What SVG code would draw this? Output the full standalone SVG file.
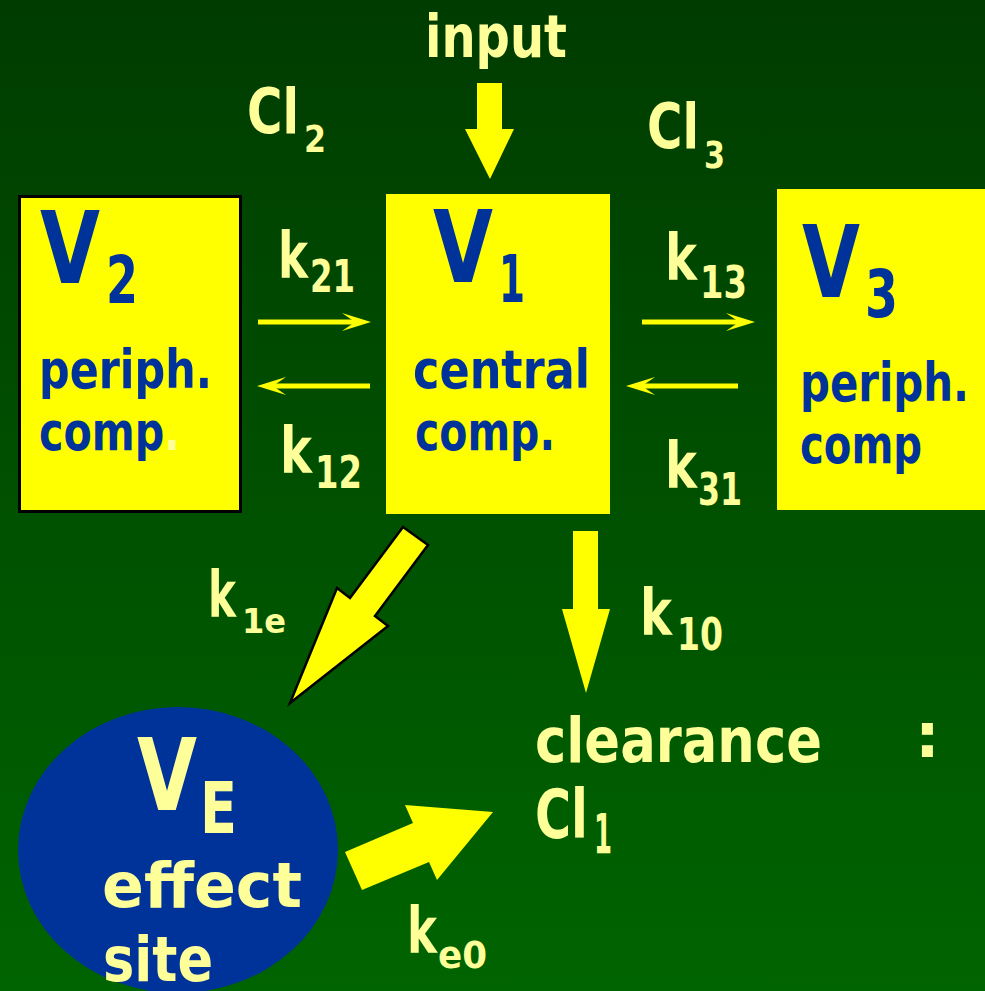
<svg xmlns="http://www.w3.org/2000/svg" width="985" height="991" viewBox="0 0 985 991">
<defs>
<linearGradient id="bg" x1="0" y1="0" x2="0" y2="1">
<stop offset="0" stop-color="#003c00"/>
<stop offset="1" stop-color="#006400"/>
</linearGradient>
</defs>
<style>
text{font-family:"DejaVu Sans","Liberation Sans",sans-serif;font-weight:bold}
.lt{fill:#FFFF99}
.bl{fill:#003399}
.box{fill:#FFFF00}
.thin{stroke:#FFFF00;stroke-width:5;fill:none}
.head{fill:#FFFF00}
.big{fill:#FFFF00}
</style>
<rect x="0" y="0" width="985" height="991" fill="url(#bg)"/>

<g id="V2">
<rect class="box" x="19.5" y="196.5" width="221" height="315" stroke="#000" stroke-width="3"/>
<text class="bl" x="40" y="283" font-size="100" textLength="60" lengthAdjust="spacingAndGlyphs">V</text>
<text class="bl" x="106" y="303" font-size="66" textLength="32" lengthAdjust="spacingAndGlyphs">2</text>
<text class="bl" x="39" y="388" font-size="54" textLength="173" lengthAdjust="spacingAndGlyphs">periph.</text>
<text class="bl" x="39" y="450" font-size="54" textLength="141" lengthAdjust="spacingAndGlyphs">comp<tspan class="lt">.</tspan></text>
</g>

<g id="V1">
<rect class="box" x="386" y="194" width="224" height="320"/>
<text class="bl" x="433" y="282" font-size="100" textLength="60" lengthAdjust="spacingAndGlyphs">V</text>
<text class="bl" x="499" y="302" font-size="66" textLength="26" lengthAdjust="spacingAndGlyphs">1</text>
<text class="bl" x="413" y="388" font-size="54" textLength="177" lengthAdjust="spacingAndGlyphs">central</text>
<text class="bl" x="415" y="450" font-size="54" textLength="140" lengthAdjust="spacingAndGlyphs">comp.</text>
</g>

<g id="V3">
<rect class="box" x="777" y="189" width="208" height="321"/>
<text class="bl" x="802" y="297" font-size="100" textLength="58" lengthAdjust="spacingAndGlyphs">V</text>
<text class="bl" x="865" y="317" font-size="66" textLength="33" lengthAdjust="spacingAndGlyphs">3</text>
<text class="bl" x="800" y="401" font-size="54" textLength="169" lengthAdjust="spacingAndGlyphs">periph.</text>
<text class="bl" x="800" y="463" font-size="54" textLength="122" lengthAdjust="spacingAndGlyphs">comp</text>
</g>

<g id="VE">
<ellipse cx="178" cy="850" rx="160" ry="143" fill="#003399"/>
<text class="lt" x="137" y="810" font-size="100" textLength="60" lengthAdjust="spacingAndGlyphs">V</text>
<text class="lt" x="200" y="833" font-size="72" textLength="37" lengthAdjust="spacingAndGlyphs">E</text>
<text class="lt" x="102" y="907" font-size="62" textLength="200" lengthAdjust="spacingAndGlyphs">effect</text>
<text class="lt" x="103" y="981" font-size="62" textLength="110" lengthAdjust="spacingAndGlyphs">site</text>
</g>

<g id="input">
<text class="lt" x="425" y="57" font-size="58" textLength="142" lengthAdjust="spacingAndGlyphs">input</text>
</g>

<g id="clearance">
<text class="lt" x="535" y="762" font-size="62" textLength="287" lengthAdjust="spacingAndGlyphs">clearance</text>
<text class="lt" x="915" y="757" font-size="62">:</text>
<text class="lt" x="535" y="838" font-size="68" textLength="53" lengthAdjust="spacingAndGlyphs">Cl</text>
<text class="lt" x="594" y="853" font-size="56" textLength="18" lengthAdjust="spacingAndGlyphs">1</text>
</g>

<g id="labels">
<text class="lt" x="247" y="133" font-size="62" textLength="52" lengthAdjust="spacingAndGlyphs">Cl</text>
<text class="lt" x="304" y="152" font-size="37" textLength="22" lengthAdjust="spacingAndGlyphs">2</text>
<text class="lt" x="647" y="148" font-size="62" textLength="52" lengthAdjust="spacingAndGlyphs">Cl</text>
<text class="lt" x="704" y="168" font-size="37" textLength="21" lengthAdjust="spacingAndGlyphs">3</text>

<text class="lt" x="278" y="278" font-size="64" textLength="30" lengthAdjust="spacingAndGlyphs">k</text>
<text class="lt" x="310" y="292" font-size="44" textLength="45" lengthAdjust="spacingAndGlyphs">21</text>
<text class="lt" x="280" y="473" font-size="64" textLength="32" lengthAdjust="spacingAndGlyphs">k</text>
<text class="lt" x="315" y="488" font-size="44" textLength="47" lengthAdjust="spacingAndGlyphs">12</text>
<text class="lt" x="665" y="280" font-size="64" textLength="32" lengthAdjust="spacingAndGlyphs">k</text>
<text class="lt" x="700" y="298" font-size="44" textLength="47" lengthAdjust="spacingAndGlyphs">13</text>
<text class="lt" x="665" y="488" font-size="64" textLength="32" lengthAdjust="spacingAndGlyphs">k</text>
<text class="lt" x="698" y="505" font-size="44" textLength="44" lengthAdjust="spacingAndGlyphs">31</text>
<text class="lt" x="208" y="617" font-size="64" textLength="28" lengthAdjust="spacingAndGlyphs">k</text>
<text class="lt" x="242" y="633" font-size="33" textLength="44" lengthAdjust="spacingAndGlyphs">1e</text>
<text class="lt" x="640" y="635" font-size="64" textLength="32" lengthAdjust="spacingAndGlyphs">k</text>
<text class="lt" x="677" y="650" font-size="44" textLength="46" lengthAdjust="spacingAndGlyphs">10</text>
<text class="lt" x="407" y="953" font-size="64" textLength="30" lengthAdjust="spacingAndGlyphs">k</text>
<text class="lt" x="438" y="968" font-size="38" textLength="49" lengthAdjust="spacingAndGlyphs">e0</text>
</g>

<g id="connectors">
<polygon class="big" points="477,83 502,83 502,129 514,129 490,179 465,129 477,129"/>
<line class="thin" x1="258" y1="322" x2="356" y2="322"/>
<polygon class="head" points="371,322 342,313 355,322 342,331"/>
<line class="thin" x1="370" y1="386" x2="272" y2="386"/>
<polygon class="head" points="257,386 286,377 273,386 286,395"/>
<line class="thin" x1="642" y1="322" x2="740" y2="322"/>
<polygon class="head" points="755,322 726,313 739,322 726,331"/>
<line class="thin" x1="738" y1="386" x2="641" y2="386"/>
<polygon class="head" points="626,386 655,377 642,386 655,395"/>
<polygon class="big" points="403,527 428,545 375,616 388,626 290,703 337,588 350,598" stroke="#000" stroke-width="2.5" stroke-linejoin="miter"/>
<polygon class="big" points="573,531 598,531 598,609 610,609 586,693 562,609 573,609"/>
<polygon class="big" points="345,852 362,890 429,862 437,880 493,812 405,805 413,823"/>
</g>
</svg>
